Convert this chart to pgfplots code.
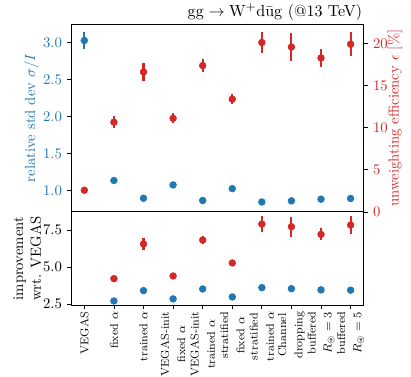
\documentclass[border=0pt]{standalone}
\usepackage{amssymb}
\usepackage{pgfplots}
\pgfplotsset{compat=1.18}
\definecolor{tabblue}{HTML}{1f77b4}
\definecolor{tabred}{HTML}{d62728}

\pgfplotsset{
  panel/.style={
    scale only axis, width=199.2pt,
    xmin=-0.45, xmax=9.45,
    tick align=outside, major tick length=2.7pt,
    tick style={black, line width=0.5pt},
    axis line style={black, line width=0.6pt},
  },
  bluepts/.style={only marks, color=tabblue, mark=*, mark size=2.3pt,
    error bars/y dir=both, error bars/y explicit, error bars/error mark=none,
    error bars/error bar style={color=tabblue, line width=1.4pt}},
  redpts/.style={only marks, color=tabred, mark=*, mark size=2.3pt,
    error bars/y dir=both, error bars/y explicit, error bars/error mark=none,
    error bars/error bar style={color=tabred, line width=1.4pt}},
}

\begin{document}
\begin{tikzpicture}
\path[use as bounding box] (-48.3pt,-112.2pt) rectangle (231.2pt,144.1pt);

% top panel, left axis: relative std dev
\begin{axis}[panel, name=top, at={(0,0)}, anchor=south west,
  height=127.8pt,
  ymin=0.716, ymax=3.253,
  xtick=\empty, ytick pos=left,
  ytick={1.0,1.5,2.0,2.5,3.0},
  yticklabel style={color=tabblue, /pgf/number format/.cd, fixed, fixed zerofill, precision=1},
  ylabel={relative std dev $\sigma/I$},
  ylabel style={color=tabblue, at={(axis description cs:-0.135,0.5)}, anchor=center},
]
\addplot[bluepts] coordinates {
  (0,3.03) +- (0,0.11)
  (1,1.14) +- (0,0.005)
  (2,0.90) +- (0,0.005)
  (3,1.08) +- (0,0.005)
  (4,0.87) +- (0,0.005)
  (5,1.03) +- (0,0.005)
  (6,0.85) +- (0,0.005)
  (7,0.865) +- (0,0.005)
  (8,0.888) +- (0,0.005)
  (9,0.897) +- (0,0.005)
};
\end{axis}

% top panel, right axis: unweighting efficiency
\begin{axis}[panel, at={(0,0)}, anchor=south west,
  height=127.8pt,
  ymin=0, ymax=22.3,
  axis x line=none, axis y line*=right,
  ytick={0,5,10,15,20},
  yticklabel style={color=tabred},
  ylabel={unweighting efficiency $\epsilon$ [\%]},
  ylabel style={color=tabred, at={(axis description cs:1.106,0.5)}, anchor=center},
]
\addplot[redpts] coordinates {
  (0,2.57) +- (0,0.05)
  (1,10.65) +- (0,0.7)
  (2,16.6) +- (0,1.1)
  (3,11.1) +- (0,0.6)
  (4,17.36) +- (0,0.8)
  (5,13.37) +- (0,0.6)
  (6,20.1) +- (0,1.25)
  (7,19.57) +- (0,1.7)
  (8,18.27) +- (0,1.07)
  (9,19.9) +- (0,1.4)
};
\end{axis}

\node[anchor=base east, inner sep=0pt, font=\fontsize{10.9}{13}\selectfont]
  at ([xshift=-1pt,yshift=5pt]top.north east)
  {$\mathrm{gg}\to\mathrm{W}^{+}\mathrm{d}\bar{\mathrm{u}}\mathrm{g}$ (@13 TeV)};

% bottom panel: improvement wrt. VEGAS
\begin{axis}[panel, at={(0,0)}, anchor=north west,
  height=63.6pt,
  ymin=2.4, ymax=8.72,
  ytick pos=left, xtick pos=bottom,
  ytick={2.5,5.0,7.5},
  yticklabel style={/pgf/number format/.cd, fixed, fixed zerofill, precision=1},
  xtick={0,1,2,3,4,5,6,7,8,9},
  xticklabels={VEGAS, fixed $\alpha$, trained $\alpha$,
    {VEGAS-init\\fixed $\alpha$}, {VEGAS-init\\trained $\alpha$},
    {stratified\\fixed $\alpha$}, {stratified\\trained $\alpha$},
    {Channel\\dropping}, {buffered\\$R_{\circledast}=3$}, {buffered\\$R_{\circledast}=5$}},
  xticklabel style={rotate=90, anchor=east, align=center, inner sep=1.5pt,
    font=\fontsize{7.7}{11}\selectfont},
  ylabel={improvement\\wrt. VEGAS},
  ylabel style={align=center, at={(axis description cs:-0.149,0.5)}, anchor=center},
]
\addplot[bluepts] coordinates {
  (1,2.70) +- (0,0.01)
  (2,3.40) +- (0,0.01)
  (3,2.84) +- (0,0.01)
  (4,3.51) +- (0,0.01)
  (5,2.97) +- (0,0.01)
  (6,3.60) +- (0,0.01)
  (7,3.53) +- (0,0.01)
  (8,3.45) +- (0,0.01)
  (9,3.43) +- (0,0.01)
};
\addplot[redpts] coordinates {
  (1,4.21) +- (0,0.2)
  (2,6.55) +- (0,0.43)
  (3,4.39) +- (0,0.2)
  (4,6.82) +- (0,0.3)
  (5,5.27) +- (0,0.2)
  (6,7.90) +- (0,0.53)
  (7,7.72) +- (0,0.67)
  (8,7.20) +- (0,0.4)
  (9,7.83) +- (0,0.58)
};
\end{axis}
\end{tikzpicture}
\end{document}
